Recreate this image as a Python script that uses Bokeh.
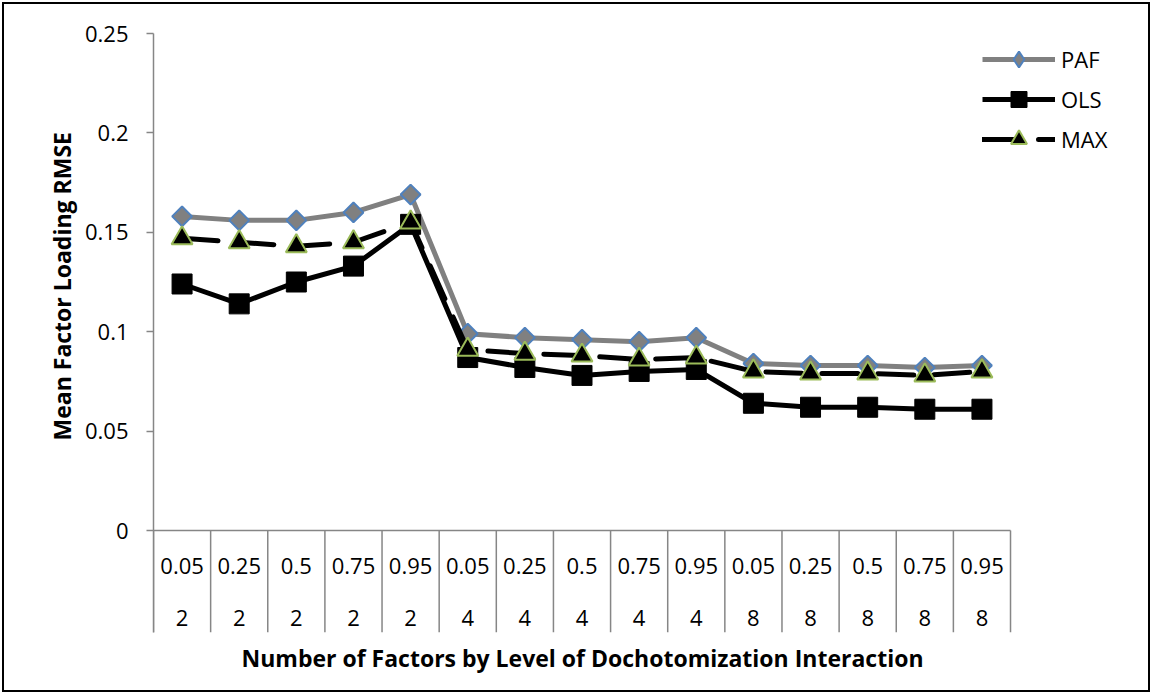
import math
from bokeh.plotting import figure
from bokeh.models import (Range1d, FixedTicker, CustomJSTickFormatter,
                          Legend, LegendItem, ColumnDataSource, Title)
from bokeh.core.properties import value
from bokeh.embed import file_html
from bokeh.resources import INLINE

# ---- data ----
levels = ["0.05", "0.25", "0.5", "0.75", "0.95",
          "0.05", "0.25", "0.5", "0.75", "0.95",
          "0.05", "0.25", "0.5", "0.75", "0.95"]
factors = ["2", "2", "2", "2", "2",
           "4", "4", "4", "4", "4",
           "8", "8", "8", "8", "8"]
paf = [0.158, 0.156, 0.156, 0.160, 0.169, 0.099, 0.097, 0.096, 0.095, 0.097,
       0.084, 0.083, 0.083, 0.082, 0.083]
ols = [0.124, 0.114, 0.125, 0.133, 0.154, 0.087, 0.082, 0.078, 0.080, 0.081,
       0.064, 0.062, 0.062, 0.061, 0.061]
mx = [0.147, 0.145, 0.143, 0.145, 0.155, 0.091, 0.089, 0.088, 0.086, 0.087,
      0.080, 0.079, 0.079, 0.078, 0.080]
y_ticks = [0, 0.05, 0.1, 0.15, 0.2, 0.25]
series_names = ["PAF", "OLS", "MAX"]
x_title = "Number of Factors by Level of Dochotomization Interaction"
y_title = "Mean Factor Loading RMSE"

FONT = "Open Sans"
AXIS_GRAY = "#868686"

# ---- layout constants (pixels) ----
W, H = 1148, 690
PX_PER_UNIT = 1988.0          # vertical pixels per 1.0 of RMSE
LABEL_ZONE = 102              # depth of the category label box below zero
ROW1, ROW2 = 35, 87           # label row centres below zero (px)

n = len(levels)
xs = list(range(1, n + 1))
y_bottom = -LABEL_ZONE / PX_PER_UNIT
src = ColumnDataSource(dict(x=xs, paf=paf, ols=ols, mx=mx,
                            lev=levels, fac=factors,
                            r1=[-ROW1 / PX_PER_UNIT] * n,
                            r2=[-ROW2 / PX_PER_UNIT] * n,
                            hidden=[float("nan")] * n))
bounds = [i + 0.5 for i in range(0, n + 1)]
sep = ColumnDataSource(dict(b=bounds, y0=[0.0] * len(bounds), y1=[y_bottom] * len(bounds)))

x_end = 17.6
frame_h = int(round((0.25 - y_bottom) * PX_PER_UNIT))
mb_left, mb_top = 149, 29
frame_w = int(round((x_end - 0.5) * 57.13))
mb_right = W - mb_left - frame_w
mb_bottom = H - mb_top - frame_h

p = figure(width=W, height=H, output_backend="svg", toolbar_location=None,
           x_range=Range1d(0.5, x_end), y_range=Range1d(y_bottom, 0.25),
           x_axis_location=None,
           min_border_left=mb_left, min_border_right=mb_right,
           min_border_top=mb_top, min_border_bottom=mb_bottom)
p.styles = {"border": "2px solid black", "margin": "2px"}
p.outline_line_color = None
p.xgrid.visible = False
p.ygrid.visible = False
p.background_fill_color = "white"
p.border_fill_color = "white"

# y axis
ya = p.yaxis[0]
ya.ticker = FixedTicker(ticks=y_ticks)
ya.formatter = CustomJSTickFormatter(code="return (Math.round(tick*100)/100).toString();")
ya.axis_line_color = AXIS_GRAY
ya.axis_line_width = 1.5
ya.major_tick_line_color = AXIS_GRAY
ya.major_tick_line_width = 1.5
ya.major_tick_out = 7
ya.major_tick_in = 0
ya.minor_tick_line_color = None
ya.major_label_standoff = 18
ya.major_label_text_font = FONT
ya.major_label_text_font_size = "22px"
ya.major_label_text_color = "black"

yt = Title(text=y_title, align="left", offset=192, standoff=7,
           text_font=FONT, text_font_style="bold", text_font_size="23px",
           text_color="black")
p.add_layout(yt, "left")

xt = Title(text=x_title, align="left", offset=88, standoff=14,
           text_font=FONT, text_font_style="bold", text_font_size="23px",
           text_color="black")
p.add_layout(xt, "below")

# category axis drawn through the plot's own scales
p.segment(x0=0.5, y0=0, x1=n + 0.5, y1=0, line_color=AXIS_GRAY, line_width=1.5)
p.segment(x0="b", y0="y0", x1="b", y1="y1", source=sep, line_color=AXIS_GRAY, line_width=1.5)
p.text(x="x", y="r1", text="lev", source=src, text_align="center", text_baseline="middle",
       text_font=value(FONT), text_font_size="22px", text_color="black")
p.text(x="x", y="r2", text="fac", source=src, text_align="center", text_baseline="middle",
       text_font=value(FONT), text_font_size="22px", text_color="black")

# series
r1l = p.line("x", "paf", source=src, line_color="#808080", line_width=5, line_join="round")
r1m = p.scatter("x", "paf", source=src, marker="square", angle=math.pi / 4, size=14,
                fill_color="#808080", line_color="#4F81BD", line_width=2)
r2l = p.line("x", "ols", source=src, line_color="black", line_width=5, line_join="round")
r2m = p.scatter("x", "ols", source=src, marker="square", size=20,
                fill_color="black", line_color="black", line_width=1)
r3l = p.line("x", "mx", source=src, line_color="black", line_width=5,
             line_dash="36 20", line_cap="round", line_join="round")
r3m = p.scatter("x", "mx", source=src, marker="triangle", size=21,
                fill_color="black", line_color="#9BBB59", line_width=2)

# legend-only diamond proxy (legend glyphs ignore marker rotation); no visible points
r1k = p.scatter("x", "hidden", source=src, marker="diamond", size=14,
                fill_color="#808080", line_color="#4F81BD", line_width=2)

GH = 40
legend = Legend(items=[LegendItem(label=series_names[0], renderers=[r1l, r1k]),
                       LegendItem(label=series_names[1], renderers=[r2l, r2m]),
                       LegendItem(label=series_names[2], renderers=[r3l, r3m])],
                location=(829, frame_h - 6 - 3 * GH))
legend.border_line_color = None
legend.background_fill_alpha = 0
legend.padding = 0
legend.margin = 0
legend.spacing = 0
legend.glyph_width = 73
legend.glyph_height = GH
legend.label_height = 30
legend.label_standoff = 6
legend.label_text_font = FONT
legend.label_text_font_size = "22px"
legend.label_text_color = "black"
p.add_layout(legend)

open("out.html", "w").write(file_html(p, INLINE))
